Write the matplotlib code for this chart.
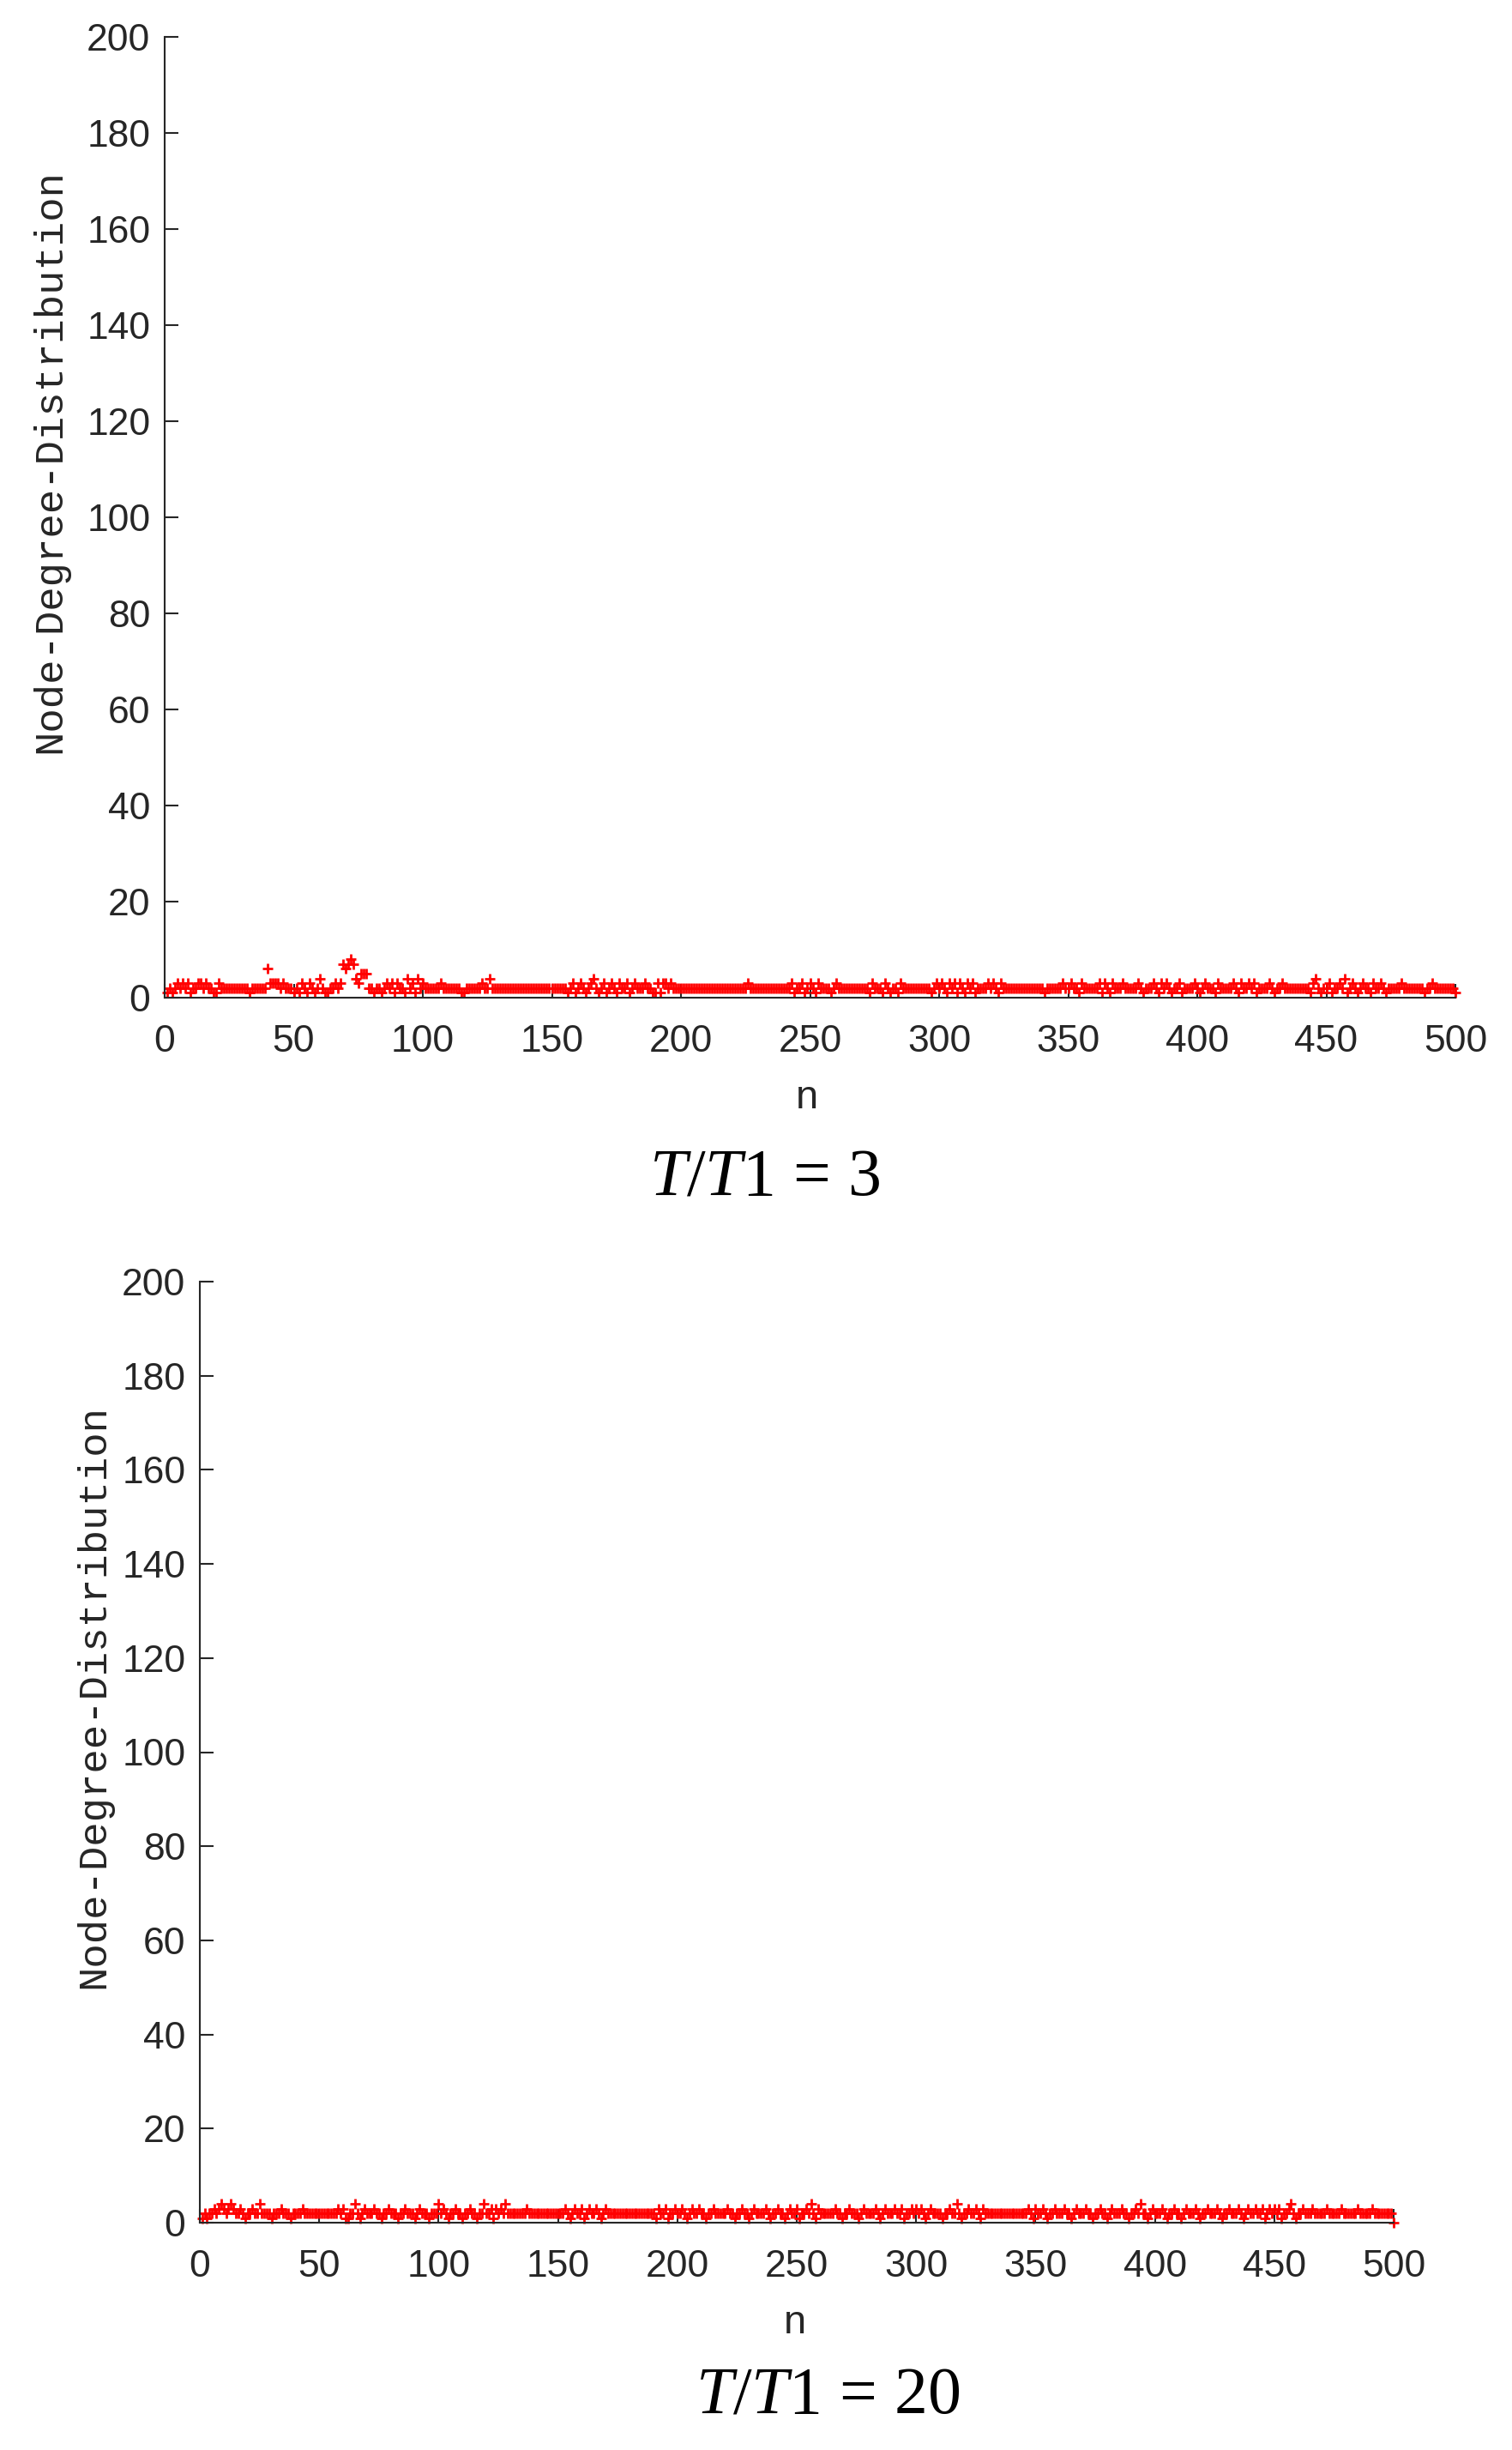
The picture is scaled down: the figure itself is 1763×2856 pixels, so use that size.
import numpy as np
import matplotlib
matplotlib.use('Agg')
import matplotlib.pyplot as plt

# Node degree per node (n = 1..500)
degree_t3 = [
    1, 2, 1, 2, 3, 2, 3, 2, 3, 1, 2, 2, 3, 3, 2, 3, 2, 2, 1, 1, 3, 2, 2, 2, 2,
    2, 2, 2, 2, 2, 2, 2, 1, 2, 2, 2, 2, 2, 2, 6, 3, 3, 3, 3, 2, 3, 2, 2, 2, 1,
    2, 1, 3, 2, 1, 3, 2, 1, 2, 4, 2, 1, 1, 2, 2, 3, 2, 3, 7, 6, 7, 8, 7, 4, 3,
    5, 5, 5, 2, 2, 1, 2, 2, 1, 2, 3, 2, 3, 1, 3, 2, 2, 1, 4, 2, 3, 1, 4, 2, 3,
    2, 2, 2, 2, 2, 2, 3, 2, 2, 2, 2, 2, 2, 2, 1, 1, 2, 2, 2, 2, 2, 2, 3, 2, 2,
    4, 2, 2, 2, 2, 2, 2, 2, 2, 2, 2, 2, 2, 2, 2, 2, 2, 2, 2, 2, 2, 2, 2, 2, 2,
    2, 2, 2, 2, 2, 1, 2, 3, 1, 2, 3, 2, 1, 2, 3, 4, 2, 1, 2, 3, 1, 2, 3, 2, 1,
    3, 2, 2, 3, 1, 2, 3, 2, 2, 2, 3, 2, 2, 1, 1, 3, 1, 3, 3, 2, 3, 2, 2, 2, 2,
    2, 2, 2, 2, 2, 2, 2, 2, 2, 2, 2, 2, 2, 2, 2, 2, 2, 2, 2, 2, 2, 2, 2, 2, 2,
    3, 2, 2, 2, 2, 2, 2, 2, 2, 2, 2, 2, 2, 2, 2, 2, 2, 3, 1, 2, 2, 3, 1, 2, 3,
    2, 1, 3, 2, 2, 2, 2, 1, 2, 3, 2, 2, 2, 2, 2, 2, 2, 2, 2, 2, 2, 2, 1, 3, 2,
    2, 2, 1, 3, 2, 1, 2, 2, 1, 3, 2, 2, 2, 2, 2, 2, 2, 2, 2, 2, 2, 1, 2, 3, 2,
    3, 2, 1, 3, 2, 3, 1, 3, 2, 1, 3, 2, 3, 1, 2, 2, 2, 2, 3, 2, 3, 2, 1, 3, 2,
    2, 2, 2, 2, 2, 2, 2, 2, 2, 2, 2, 2, 2, 2, 2, 1, 2, 2, 2, 2, 2, 2, 3, 2, 2,
    3, 2, 2, 1, 3, 2, 2, 2, 2, 2, 2, 3, 1, 3, 2, 1, 3, 2, 2, 2, 3, 2, 2, 2, 2,
    2, 3, 2, 1, 2, 2, 2, 3, 2, 1, 3, 2, 3, 2, 1, 2, 2, 3, 1, 2, 2, 2, 2, 3, 2,
    1, 2, 3, 2, 2, 2, 1, 3, 2, 2, 2, 2, 2, 3, 2, 1, 3, 2, 2, 3, 2, 3, 1, 2, 2,
    2, 2, 3, 2, 1, 2, 2, 3, 2, 2, 2, 2, 2, 2, 2, 2, 2, 2, 1, 3, 4, 2, 1, 2, 2,
    3, 1, 2, 2, 3, 2, 4, 1, 2, 3, 2, 1, 2, 3, 2, 2, 1, 3, 2, 2, 3, 2, 1, 2, 2,
    2, 2, 2, 3, 2, 2, 2, 2, 2, 2, 2, 2, 1, 2, 2, 3, 2, 2, 2, 2, 2, 2, 2, 2, 1,
]

degree_t20 = [
    1, 2, 1, 2, 2, 3, 2, 3, 4, 3, 2, 3, 4, 3, 2, 2, 3, 2, 1, 2, 2, 3, 2, 2, 4,
    2, 2, 2, 2, 1, 2, 2, 2, 3, 2, 2, 2, 1, 2, 2, 2, 2, 3, 2, 2, 2, 2, 2, 2, 2,
    2, 2, 2, 2, 2, 2, 2, 3, 2, 3, 1, 1, 2, 2, 4, 2, 1, 2, 3, 2, 2, 2, 3, 2, 2,
    1, 2, 2, 3, 2, 2, 2, 1, 2, 2, 3, 2, 2, 2, 1, 2, 3, 2, 2, 2, 1, 2, 2, 2, 4,
    2, 3, 2, 1, 2, 2, 3, 2, 2, 1, 2, 2, 3, 2, 2, 1, 2, 2, 4, 2, 2, 3, 1, 3, 2,
    3, 2, 4, 2, 2, 2, 2, 2, 2, 2, 2, 3, 2, 2, 2, 2, 2, 2, 2, 2, 2, 2, 2, 2, 2,
    2, 2, 3, 2, 1, 2, 3, 2, 2, 3, 1, 2, 3, 2, 2, 3, 2, 1, 2, 3, 2, 2, 2, 2, 2,
    2, 2, 2, 2, 2, 2, 2, 2, 2, 2, 2, 2, 2, 2, 2, 1, 3, 2, 2, 3, 1, 2, 2, 3, 2,
    2, 3, 2, 1, 2, 3, 2, 2, 3, 2, 2, 1, 2, 2, 3, 2, 2, 2, 2, 2, 3, 2, 2, 1, 2,
    2, 3, 2, 2, 1, 2, 3, 2, 2, 2, 2, 3, 2, 1, 2, 2, 3, 2, 2, 1, 2, 3, 2, 2, 3,
    1, 2, 2, 3, 2, 4, 2, 1, 3, 2, 2, 2, 2, 2, 2, 3, 2, 2, 1, 2, 2, 3, 2, 2, 2,
    1, 2, 3, 2, 2, 2, 2, 3, 2, 1, 2, 3, 2, 2, 2, 3, 2, 2, 3, 1, 2, 2, 3, 2, 3,
    2, 3, 2, 1, 2, 3, 2, 2, 2, 2, 1, 2, 2, 3, 2, 2, 4, 2, 1, 2, 2, 3, 2, 2, 3,
    2, 1, 3, 2, 2, 2, 2, 2, 2, 2, 2, 2, 2, 2, 2, 2, 2, 2, 2, 2, 2, 3, 2, 1, 3,
    2, 2, 3, 2, 1, 2, 2, 3, 2, 2, 2, 3, 2, 2, 1, 2, 3, 2, 2, 2, 3, 2, 2, 1, 2,
    2, 3, 2, 2, 1, 2, 3, 2, 2, 2, 3, 2, 2, 1, 2, 2, 3, 2, 4, 2, 2, 1, 2, 3, 2,
    2, 2, 3, 2, 1, 2, 2, 3, 2, 2, 1, 2, 3, 2, 2, 2, 3, 2, 1, 2, 2, 3, 2, 2, 2,
    3, 2, 1, 2, 2, 3, 2, 2, 2, 3, 2, 1, 2, 3, 2, 2, 3, 2, 2, 3, 1, 2, 3, 2, 3,
    2, 3, 1, 2, 2, 3, 4, 2, 1, 2, 2, 3, 2, 2, 2, 3, 2, 2, 2, 2, 2, 3, 2, 2, 2,
    2, 2, 3, 2, 2, 2, 2, 2, 2, 3, 2, 2, 2, 2, 2, 3, 2, 2, 2, 2, 2, 2, 2, 2, 0,
]

captions = [r'$T/T1\,=\,3$', r'$T/T1\,=\,20$']
x_ticks = list(range(0, 501, 50))
y_ticks = list(range(0, 201, 20))

plt.rcParams['mathtext.fontset'] = 'custom'
plt.rcParams['mathtext.rm'] = 'Liberation Serif'
plt.rcParams['mathtext.it'] = 'Liberation Serif:italic'

W, H = 1763, 2856
fig = plt.figure(figsize=(W / 100, H / 100), dpi=100)

# pixel boxes of the two axes: left, right, top, bottom
boxes = [(192, 1697, 43, 1163), (233, 1625, 1494, 2591)]
ylabel_pos = [(58, 537), (109, 1978)]
xlabel_pos = [(941, 1280), (927, 2708)]
caption_pos = [(892, 1370), (965, 2790)]

dark = '#262626'

for i, series in enumerate([degree_t3, degree_t20]):
    l, r, t, b = boxes[i]
    ax = fig.add_axes([l / W, 1 - b / H, (r - l) / W, (b - t) / H])
    n = np.arange(1, len(series) + 1)
    ax.plot(n, series, linestyle='none', marker='+', color='#ff0000',
            markersize=8, markeredgewidth=2, clip_on=False)
    ax.set_xlim(0, 500)
    ax.set_ylim(0, 200)
    ax.set_xticks(x_ticks)
    ax.set_yticks(y_ticks)
    for s in ['top', 'right']:
        ax.spines[s].set_visible(False)
    for s in ['left', 'bottom']:
        ax.spines[s].set_linewidth(1.5)
        ax.spines[s].set_color(dark)
    ax.tick_params(direction='in', length=11.5, width=1.5, color=dark,
                   labelsize=32, labelcolor=dark)
    ax.tick_params(axis='y', pad=12)
    ax.tick_params(axis='x', pad=22)
    for lab in ax.get_xticklabels() + ax.get_yticklabels():
        lab.set_family('Liberation Sans')

    fig.text(ylabel_pos[i][0] / W, 1 - ylabel_pos[i][1] / H,
             'Node-Degree-Distribution', rotation=90, ha='center',
             va='center', fontsize=34, family='Liberation Mono', color=dark)
    fig.text(xlabel_pos[i][0] / W, 1 - xlabel_pos[i][1] / H, 'n',
             ha='center', va='center', fontsize=34, family='Liberation Mono',
             color=dark)
    fig.text(caption_pos[i][0] / W, 1 - caption_pos[i][1] / H, captions[i],
             ha='center', va='center', fontsize=56, color='black')

fig.savefig('out.png', dpi=100)
